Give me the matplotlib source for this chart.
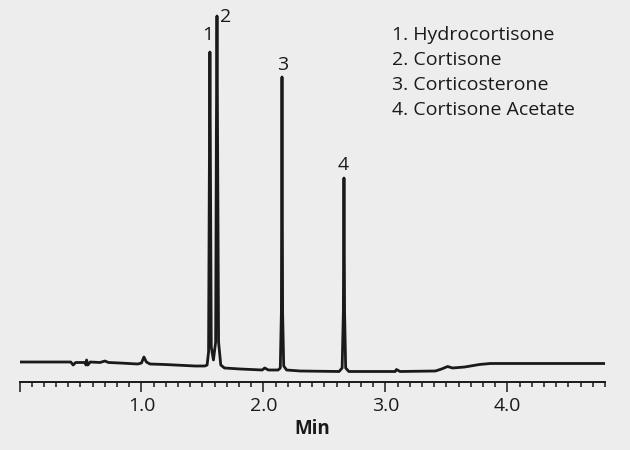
import matplotlib
matplotlib.use("Agg")
import matplotlib.pyplot as plt
from matplotlib.ticker import MultipleLocator, FixedLocator

# traced chromatogram (time in min, detector response in arbitrary units)
time_min = [
    0.00, 0.42, 0.44, 0.46, 0.54, 0.545, 0.55, 0.56, 0.58, 0.66, 0.70, 0.73,
    0.82, 0.97, 1.00, 1.02, 1.04, 1.07, 1.19, 1.44, 1.52, 1.538, 1.550, 1.556,
    1.561, 1.566, 1.572, 1.590, 1.608, 1.614, 1.619, 1.624, 1.632, 1.65, 1.68,
    1.81, 1.99, 2.01, 2.04, 2.12, 2.138, 2.147, 2.152, 2.157, 2.166, 2.19,
    2.30, 2.62, 2.645, 2.655, 2.660, 2.665, 2.674, 2.70, 3.08, 3.09, 3.12,
    3.41, 3.46, 3.51, 3.55, 3.65, 3.77, 3.86, 4.02, 4.80,
]
response = [
    20, 20, 17, 19.5, 19.5, 17, 22, 17, 20, 19.5, 21, 19.5,
    19, 18, 19, 25, 20, 18, 17.5, 16, 16, 17, 30, 200,
    330, 200, 35, 22, 40, 250, 366, 240, 40, 17, 14,
    13, 12, 14, 12, 12, 14, 70, 305, 70, 16, 12,
    11, 10.5, 14, 70, 204, 70, 14, 10.5, 10.5, 12.5, 10.5,
    11, 13, 15.5, 14, 15, 17.5, 18.5, 18.5, 18.5,
]

peak_labels = ["1", "2", "3", "4"]
peak_times = [1.561, 1.619, 2.152, 2.660]
peak_heights = [330, 366, 305, 204]
label_offsets = [(-2, 17), (9, -1), (1, 12), (-1, 13)]  # pixels

compounds = [
    "1. Hydrocortisone",
    "2. Cortisone",
    "3. Corticosterone",
    "4. Cortisone Acetate",
]

bg = "#ededed"
ink = "#1a1a1a"
plt.rcParams["font.family"] = ["Open Sans", "DejaVu Sans"]

fig = plt.figure(figsize=(6.3, 4.5), dpi=100, facecolor=bg)
ax = fig.add_axes([19.5 / 630, 1 - 382 / 450, 585.5 / 630, 382 / 450])
ax.set_facecolor(bg)

ax.plot(time_min, response, color=ink, lw=2.0, solid_joinstyle="round")

ax.set_xlim(0, 4.8)
ax.set_ylim(0, 382)

for s in ["top", "right", "left"]:
    ax.spines[s].set_visible(False)
ax.spines["bottom"].set_linewidth(1.4)
ax.spines["bottom"].set_color(ink)

ax.xaxis.set_major_locator(FixedLocator([0, 1, 2, 3, 4]))
ax.xaxis.set_minor_locator(MultipleLocator(0.1))
ax.set_xticklabels(["", "1.0", "2.0", "3.0", "4.0"])
ax.tick_params(axis="x", which="major", direction="out", length=7.5, width=1.1,
               color=ink, labelsize=14, labelcolor=ink, pad=3)
ax.tick_params(axis="x", which="minor", direction="out", length=3.8, width=1.1,
               color=ink)
ax.set_yticks([])
ax.set_xlabel("Min", fontsize=13.5, fontweight="bold", color=ink, labelpad=3)

for lab, t, h, off in zip(peak_labels, peak_times, peak_heights, label_offsets):
    ax.annotate(lab, xy=(t, h), xytext=off, textcoords="offset pixels",
                ha="center", va="center", fontsize=14, color=ink)

for i, name in enumerate(compounds):
    fig.text(392 / 630, 1 - (39.5 + 25.3 * i) / 450, name, ha="left",
             va="baseline", fontsize=14, color=ink)

fig.savefig("out.png", dpi=100, facecolor=bg)
